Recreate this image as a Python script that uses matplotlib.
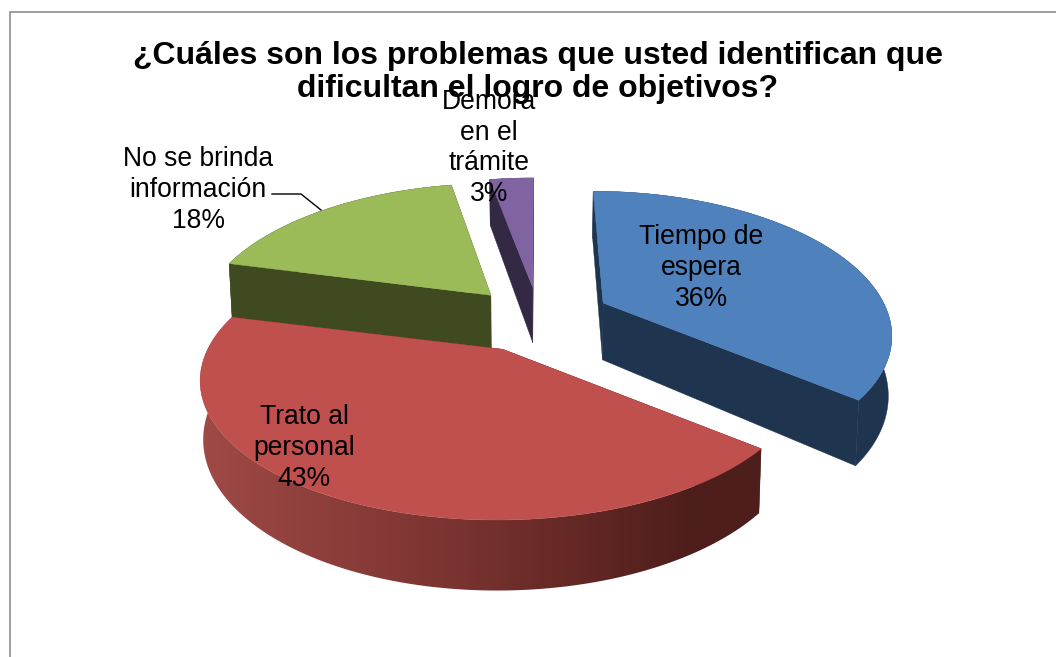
import numpy as np
import matplotlib
matplotlib.use("Agg")
import matplotlib.pyplot as plt
from matplotlib.patches import Polygon
from matplotlib.colors import LinearSegmentedColormap

title = "¿Cuáles son los problemas que usted identifican que\ndificultan el logro de objetivos?"
categories = ["Tiempo de\nespera", "Trato al\npersonal", "No se brinda\ninformación", "Demora\nen el\ntrámite"]
values = [36, 43, 18, 3]
top_colors = ["#4f81bd", "#c0504d", "#9bbb59", "#8064a2"]
side_colors = ["#1f344f", "#4e1e1c", "#3f4a20", "#332944"]

plt.rcParams["font.family"] = ["Liberation Sans", "DejaVu Sans"]
fig = plt.figure(figsize=(10.56, 6.57), dpi=100)
ax = fig.add_axes([0, 0, 1, 1])
ax.set_xlim(0, 1056)
ax.set_ylim(657, 0)
ax.axis("off")

X0, Y0, A, B, P, DEPTH, TAPER = 533, 312, 292, 130, 0.2, 58, 0.01
EXPLODE = [0.24, 0.17, 0.17, 0.24]
NUDGE = [(8, 4), (-7, 17), (-9, -1), (6, 5)]
SCALE = [(0.98, 1.07), (0.98, 0.98), (1.0, 1.08), (1.0, 1.1)]
DEPTH_SCALE = [1.0, 0.94, 1.0, 1.0]
WALL_RAMP = [(0.0, "#a04a46"), (0.45, "#7a3330"), (0.75, "#5a2320"), (0.86, "#4e1e1c"), (1.0, "#4e1e1c")]


def project(u, v, z=0.0):
    f = 1 / (1 + P * v)
    return X0 + A * u * f * (1 - TAPER * z), Y0 - B * v * f + DEPTH * z * f


# angles run clockwise from the top
fractions = np.array(values) / sum(values)
edges = 90 - 360 * np.concatenate([[0], np.cumsum(fractions)])

order = [3, 0, 2, 1]  # back to front
for rank, i in enumerate(order):
    a0, a1 = edges[i], edges[i + 1]
    mid = np.radians((a0 + a1) / 2)
    ou, ov = EXPLODE[i] * np.cos(mid), EXPLODE[i] * np.sin(mid)
    t = np.radians(np.linspace(a0, a1, 241))
    us, vs = ou + np.cos(t), ov + np.sin(t)
    dx, dy = NUDGE[i]
    sx, sy = SCALE[i]
    dz = DEPTH_SCALE[i]

    def place(u, v, z=0.0):
        x, y = project(u, v, z * dz)
        x0, y0 = project(ou, ov, z * dz)
        return x0 + dx + sx * (x - x0), y0 + dy + sy * (y - y0)

    # cut faces
    for k in (0, -1):
        pts = [place(ou, ov), place(us[k], vs[k]), place(us[k], vs[k], 1), place(ou, ov, 1)]
        ax.add_patch(Polygon(pts, fc=side_colors[i], ec=side_colors[i], lw=0.3, zorder=rank * 3))

    # outer wall
    tx, ty = place(us, vs)
    bx, by = place(us, vs, 1)
    wall = np.column_stack([np.r_[tx, bx[::-1]], np.r_[ty, by[::-1]]])
    if i == 1:
        patch = Polygon(wall, fc="none", ec="none", transform=ax.transData)
        ax.add_patch(patch)
        cmap = LinearSegmentedColormap.from_list("wall", WALL_RAMP)
        im = ax.imshow(np.linspace(0, 1, 512)[None, :], cmap=cmap, aspect="auto",
                       extent=(195, 775, 657, 300), zorder=rank * 3 + 1)
        im.set_clip_path(patch)
        ax.set_xlim(0, 1056)
        ax.set_ylim(657, 0)
    else:
        ax.add_patch(Polygon(wall, fc=side_colors[i], ec=side_colors[i], lw=0.3, zorder=rank * 3 + 1))

    # top face
    ox, oy = place(ou, ov)
    ax.add_patch(Polygon(np.column_stack([np.r_[ox, tx], np.r_[oy, ty]]), fc=top_colors[i], ec=top_colors[i],
                         lw=0.3, zorder=rank * 3 + 2))

# frame
ax.plot([1056, 9.5, 9.5], [11.5, 11.5, 657], color="#8e8e8e", lw=1.2, zorder=20, solid_joinstyle="miter")

ax.text(538, 72.5, title, ha="center", va="center", fontsize=23, fontweight="bold", color="black",
        linespacing=1.1, zorder=30)

pct = [f"{v}%" for v in values]
label_pos = [(701, 268), (304, 448), (198, 190), (489, 148)]
for name, p, (x, y) in zip(categories, pct, label_pos):
    ax.text(x, y, f"{name}\n{p}", ha="center", va="center", fontsize=19.1, color="black", linespacing=1.23, zorder=31)

# leader line
ax.plot([272, 301, 321], [194, 194, 210], color="black", lw=1.0, zorder=25)

fig.savefig("out.png", dpi=100)
